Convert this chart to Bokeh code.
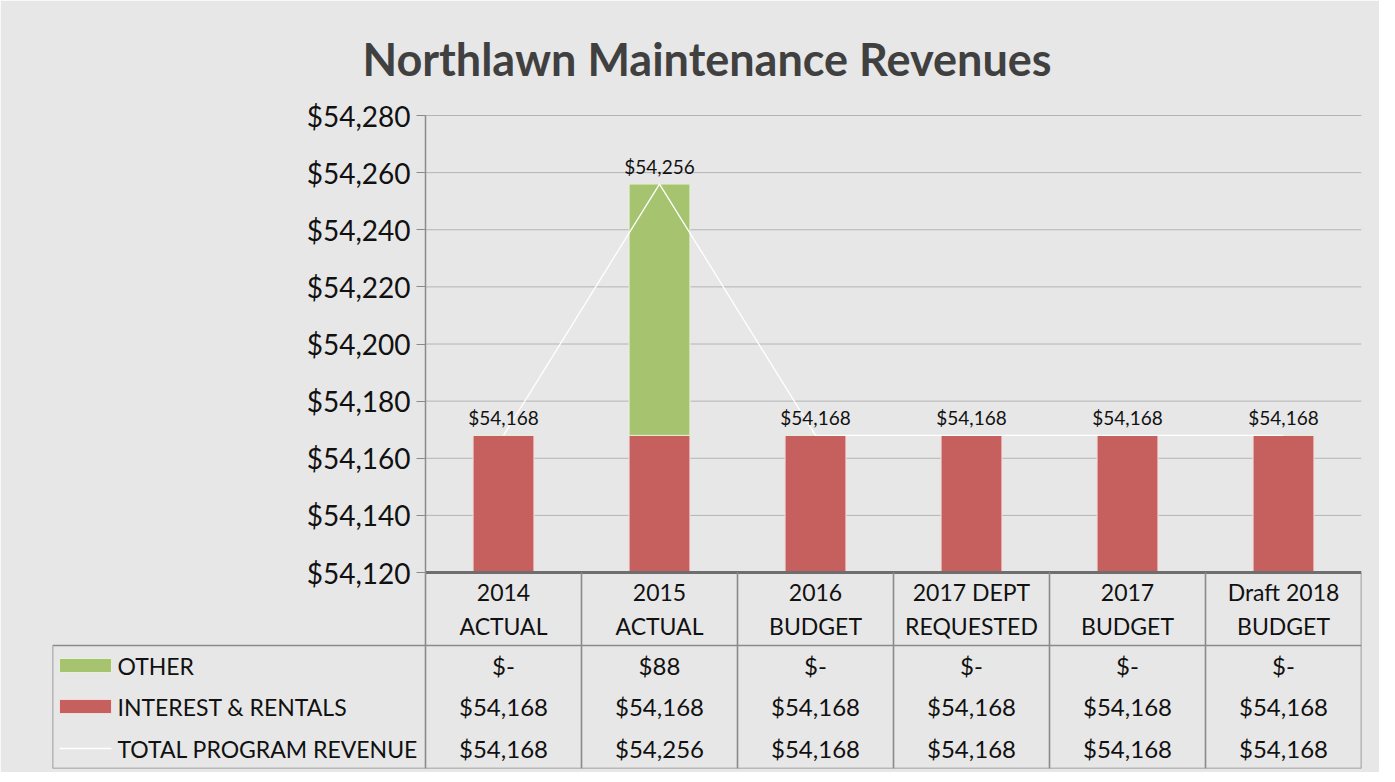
from bokeh.plotting import figure
from bokeh.models import Range1d, LinearAxis, FixedTicker, NumeralTickFormatter, ColumnDataSource
from bokeh.core.properties import value
from bokeh.embed import file_html
from bokeh.resources import INLINE
import numpy as np

# ---------------- data ----------------
categories = ["2014\nACTUAL", "2015\nACTUAL", "2016\nBUDGET",
              "2017 DEPT\nREQUESTED", "2017\nBUDGET", "Draft 2018\nBUDGET"]
series_names = ["OTHER", "INTEREST & RENTALS", "TOTAL PROGRAM REVENUE"]
other = [0, 88, 0, 0, 0, 0]
interest = [54168, 54168, 54168, 54168, 54168, 54168]
total = [54168, 54256, 54168, 54168, 54168, 54168]
y_ticks = [54120, 54140, 54160, 54180, 54200, 54220, 54240, 54260, 54280]

# ---------------- styling / layout ----------------
FONT = "Lato"
RED = "#c6605e"
GREEN = "#a6c470"
BG = "#e7e7e7"
LINE = "#8a8a8a"

W, H = 1379, 772
FR_L, FR_R = 52, 1361          # frame edges (px)
FR_T, FR_B = 95, 768
AX_X = 425                     # y axis position (px)
TICK_T = 115                   # top tick position (px)
CHART_B = 572                  # chart bottom (px)
n = len(categories)
colw = (FR_R - AX_X) / n
left_cols = (AX_X - FR_L) / colw

def px2x(px):
    return (px - AX_X) / colw

def py2t(py):                  # y px -> table range (px from frame bottom)
    return FR_B - py

Y0, Y1 = y_ticks[0], y_ticks[-1]
ppu = (CHART_B - TICK_T) / (Y1 - Y0)
ylo = Y0 - (FR_B - CHART_B) / ppu
yhi = Y1 + (TICK_T - FR_T) / ppu

p = figure(width=W, height=H, output_backend="svg", toolbar_location=None,
           x_range=Range1d(-left_cols, n), y_range=Range1d(ylo, yhi),
           x_axis_type=None, y_axis_type=None,
           min_border_left=FR_L, min_border_right=W - FR_R,
           min_border_top=FR_T, min_border_bottom=H - FR_B,
           background_fill_color=BG, border_fill_color=BG,
           outline_line_color=BG, outline_line_width=3,
           title="Northlawn Maintenance Revenues")
p.extra_y_ranges = {"tbl": Range1d(0, FR_B - FR_T)}
p.xgrid.visible = False
p.ygrid.visible = False

p.title.text_font = FONT
p.title.text_font_size = "45px"
p.title.text_font_style = "bold"
p.title.text_color = "#404040"
p.title.align = "center"
p.title.standoff = 20

xc = np.arange(n) + 0.5

# grid lines from the tick list
grid_y = y_ticks[1:]
p.segment(x0=[0] * len(grid_y), x1=[n] * len(grid_y), y0=grid_y, y1=grid_y,
          line_color="#b4b4b4", line_width=1)

# y axis placed at x = 0
yax = LinearAxis(fixed_location=0, bounds=(Y0, Y1), ticker=FixedTicker(ticks=y_ticks),
                 formatter=NumeralTickFormatter(format="$0,0"))
yax.axis_line_color = LINE
yax.axis_line_width = 1.5
yax.major_tick_line_color = LINE
yax.major_tick_out = 9
yax.major_tick_in = 0
yax.minor_tick_line_color = None
yax.major_label_text_font = FONT
yax.major_label_text_font_size = "28px"
yax.major_label_text_color = "#111111"
yax.major_label_standoff = 6
p.add_layout(yax, "left")

# bars
src = ColumnDataSource(dict(x=xc, interest=interest, other=other, total=total,
                            top_other=[a + b for a, b in zip(interest, other)],
                            lab=["${:,}".format(v) for v in total]))
p.vbar(x="x", width=0.39, bottom=Y0, top="interest", source=src,
       fill_color=RED, line_color="#f4dada", line_width=1)
p.vbar(x="x", width=0.39, bottom="interest", top="top_other", source=src,
       fill_color=GREEN, line_color="#e6f0d6", line_width=1)
p.line(x="x", y="total", source=src, line_color="#ffffff", line_width=1.3)
p.text(x="x", y="total", text="lab", source=src, text_align="center",
       text_baseline="bottom", y_offset=-6, text_font=value(FONT),
       text_font_size="19px", text_color="#111111")

# ---------------- data table ----------------
T = "tbl"
t_top = py2t(CHART_B)
t_hdr = py2t(645)
p.segment(x0=[-left_cols, -left_cols], x1=[n, n], y0=[t_hdr, 0], y1=[t_hdr, 0],
          y_range_name=T, line_color=LINE, line_width=1.6)
p.segment(x0=[0], x1=[n], y0=[t_top], y1=[t_top], y_range_name=T,
          line_color="#6e6e6e", line_width=3)
vx = list(range(n + 1))
p.segment(x0=vx, x1=vx, y0=[0] * len(vx), y1=[t_top] * len(vx), y_range_name=T,
          line_color=LINE, line_width=1.6)
p.segment(x0=[-left_cols], x1=[-left_cols], y0=[0], y1=[t_hdr], y_range_name=T,
          line_color=LINE, line_width=1.6)

# header texts
p.text(x=xc, y=[(t_top + t_hdr) / 2] * n, text=categories, y_range_name=T,
       text_align="center", text_baseline="middle", text_font=value(FONT),
       text_font_size="23px", text_color="#111111", text_line_height=1.2)

def fmt(v):
    return "$-" if v == 0 else "${:,}".format(v)

row_y = [py2t(665), py2t(706), py2t(748)]
rows = [other, interest, total]
for ry, vals in zip(row_y, rows):
    p.text(x=xc, y=[ry] * n, text=[fmt(v) for v in vals], y_range_name=T,
           text_align="center", text_baseline="middle", text_font=value(FONT),
           text_font_size="24px", text_color="#111111")

# legend keys
sw_l, sw_r = px2x(59), px2x(111)
p.quad(left=[sw_l], right=[sw_r], bottom=[row_y[0] - 7], top=[row_y[0] + 7],
       y_range_name=T, fill_color=GREEN, line_color="#e6f0d6", line_width=1)
p.quad(left=[sw_l], right=[sw_r], bottom=[row_y[1] - 7], top=[row_y[1] + 7],
       y_range_name=T, fill_color=RED, line_color="#f4dada", line_width=1)
p.segment(x0=[sw_l], x1=[sw_r], y0=[row_y[2]], y1=[row_y[2]], y_range_name=T,
          line_color="#ffffff", line_width=1.5)
p.text(x=[px2x(117)] * 3, y=row_y, text=series_names, y_range_name=T,
       text_align="left", text_baseline="middle", text_font=value(FONT),
       text_font_size="23px", text_color="#111111")

open("out.html", "w").write(file_html(p, INLINE))
